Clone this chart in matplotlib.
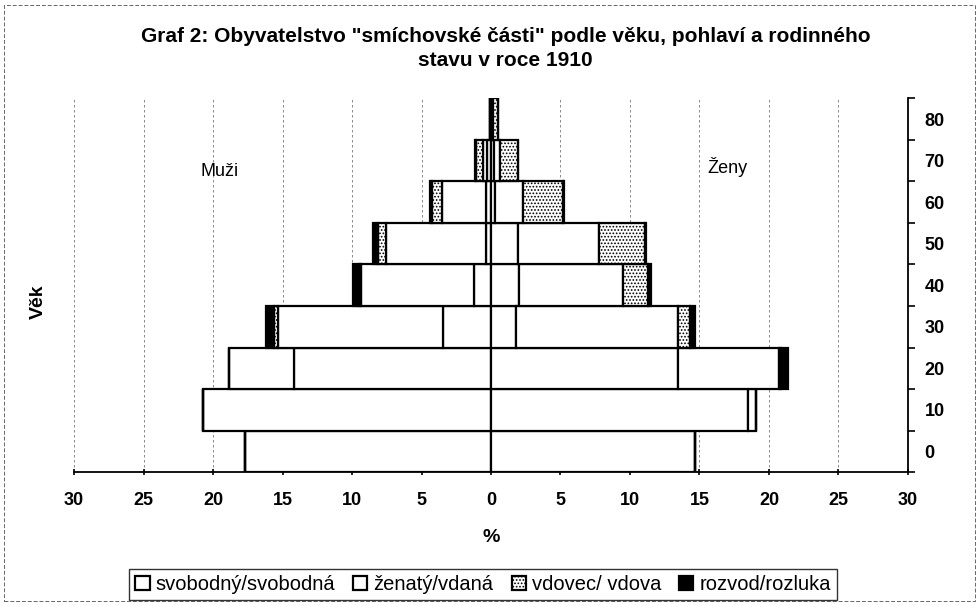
import numpy as np
import matplotlib
matplotlib.use("Agg")
import matplotlib.pyplot as plt
from matplotlib.patches import Rectangle

plt.rcParams['font.family'] = ['Liberation Sans', 'DejaVu Sans']
plt.rcParams['hatch.linewidth'] = 0.8

# data (% of population)
ages = [0, 10, 20, 30, 40, 50, 60, 70, 80]
labels = ["svobodný/svobodná", "ženatý/vdaná", "vdovec/ vdova", "rozvod/rozluka"]

muzi_svob = [17.7, 20.7, 14.2, 3.45, 1.2, 0.35, 0.35, 0.3, 0.05]
muzi_zen = [0.0, 0.0, 4.65, 11.85, 8.15, 7.2, 3.2, 0.25, 0.0]
muzi_vdo = [0.0, 0.0, 0.0, 0.3, 0.15, 0.55, 0.7, 0.55, 0.05]
muzi_roz = [0.0, 0.0, 0.0, 0.6, 0.45, 0.4, 0.15, 0.05, 0.0]

zeny_svob = [14.7, 18.5, 13.45, 1.8, 2.05, 1.95, 0.3, 0.2, 0.1]
zeny_vda = [0.0, 0.55, 7.25, 11.65, 7.45, 5.85, 2.0, 0.45, 0.05]
zeny_vdo = [0.0, 0.0, 0.15, 0.85, 1.8, 3.25, 2.9, 1.3, 0.35]
zeny_roz = [0.0, 0.0, 0.55, 0.4, 0.2, 0.1, 0.05, 0.0, 0.0]

fills = ['white', 'white', 'white', 'black']
hatches = [None, None, '.....', None]

fig = plt.figure(figsize=(9.78, 6.03), dpi=100)
ax = fig.add_axes([0.0757, 0.2172, 0.8527, 0.6195])

# thin dashed chart border
fig.patches.append(Rectangle((0.004, 0.003), 0.993, 0.988, transform=fig.transFigure,
                             fill=False, edgecolor='#666666', linewidth=0.7,
                             linestyle=(0, (4, 2))))

muzi = [muzi_svob, muzi_zen, muzi_vdo, muzi_roz]
zeny = [zeny_svob, zeny_vda, zeny_vdo, zeny_roz]

left_m = np.zeros(len(ages))
left_z = np.zeros(len(ages))
handles = []
for i in range(4):
    vm = np.array(muzi[i])
    vz = np.array(zeny[i])
    ax.barh(ages, -vm, height=10, left=-left_m, color=fills[i], hatch=hatches[i],
            edgecolor='black', linewidth=1.6, zorder=3)
    h = ax.barh(ages, vz, height=10, left=left_z, color=fills[i], hatch=hatches[i],
                edgecolor='black', linewidth=1.6, zorder=3, label=labels[i])
    handles.append(h)
    left_m += vm
    left_z += vz

ax.set_xlim(-30, 30)
ax.set_ylim(-5, 85)
ax.set_xticks(np.arange(-30, 31, 5))
ax.set_xticklabels([str(abs(t)) for t in range(-30, 31, 5)], fontsize=13, fontweight='bold')
ax.xaxis.grid(True, linestyle=(0, (3, 3)), color='#777777', linewidth=0.6, zorder=0)

ax.yaxis.tick_right()
ax.set_yticks(ages)
ax.set_yticklabels([str(a) for a in ages], fontsize=13, fontweight='bold')
ax.set_yticks(np.arange(-5, 86, 10), minor=True)
ax.tick_params(axis='y', which='major', length=0, pad=12)
ax.tick_params(axis='y', which='minor', length=5, width=1.2, direction='out')
ax.tick_params(axis='x', length=5, width=1.2, direction='inout', pad=12)

for s in ['left', 'top']:
    ax.spines[s].set_visible(False)
for s in ['right', 'bottom']:
    ax.spines[s].set_linewidth(1.3)

ax.text(-19.5, 67.5, "Muži", fontsize=13, ha='center', va='center')
ax.text(17.0, 68.5, "Ženy", fontsize=13, ha='center', va='center')

ax.set_xlabel("%", fontsize=14, fontweight='bold', labelpad=14)
fig.text(0.039, 0.5, "Věk", rotation=90, fontsize=14, fontweight='bold',
         ha='center', va='center')

fig.text(0.517, 0.92, "Graf 2: Obyvatelstvo \"smíchovské části\" podle věku, pohlaví a rodinného\nstavu v roce 1910",
         ha='center', va='center', fontsize=15, fontweight='bold', linespacing=1.35)

leg = fig.legend(handles=handles, loc='center', bbox_to_anchor=(0.494, 0.03), ncol=4,
                 fontsize=14.5, frameon=True, fancybox=False, edgecolor='black',
                 handlelength=0.7, handleheight=0.7, handletextpad=0.3,
                 columnspacing=0.9, borderpad=0.3)
leg.get_frame().set_linewidth(1.0)

fig.savefig("out.png", dpi=100)
